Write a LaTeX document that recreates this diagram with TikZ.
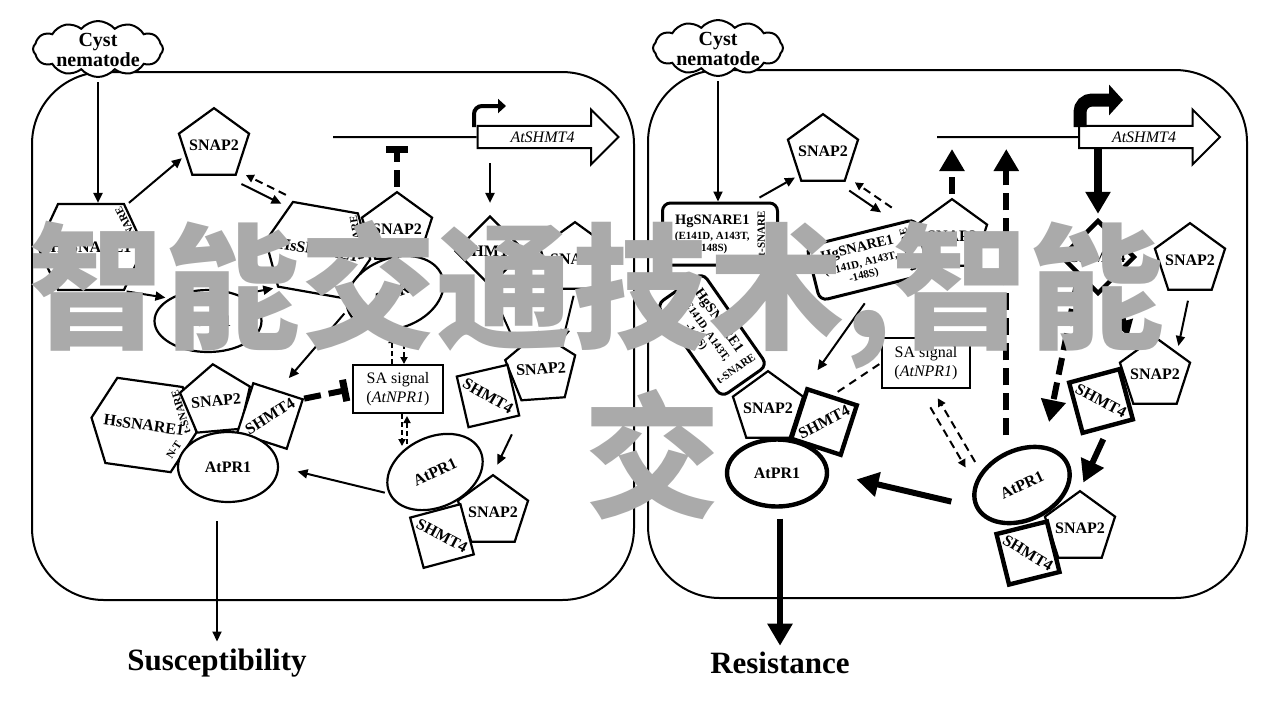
\documentclass[tikz,border=0pt]{standalone}
\usepackage{fontspec}
\usepackage{graphicx}
\setmainfont{Liberation Serif}
\newfontfamily\cjkfont{Noto Sans CJK SC}
\usepackage{tikz}
\usetikzlibrary{positioning}
\usetikzlibrary{calc}
\usetikzlibrary{arrows.meta}
\usetikzlibrary{shapes.geometric}
\usetikzlibrary{shapes.symbols}
\usetikzlibrary{shapes.arrows}

\definecolor{wmgray}{RGB}{170,170,170}

\newcommand{\protfont}{\bfseries\fontsize{8}{9}\selectfont}
\newcommand{\hgfont}{\bfseries\fontsize{7.2}{9}\selectfont}
\newcommand{\mutfont}{\bfseries\fontsize{5.5}{6}\selectfont}
\newcommand{\snarefont}{\bfseries\fontsize{5.5}{6}\selectfont}
\newcommand{\safont}{\fontsize{8}{9.5}\selectfont}
\newcommand{\genefont}{\itshape\fontsize{8}{9}\selectfont}
\newcommand{\outfont}{\bfseries\fontsize{15.5}{18}\selectfont}
\newcommand{\wmfont}{\cjkfont\bfseries\fontsize{68}{70}\selectfont}
\newcommand{\hgtext}{\begin{tabular}{@{}c@{}}HgSNARE1\\[-1.5pt]{\mutfont (E141D, A143T,}\\[-3pt]{\mutfont -148S)}\end{tabular}\hspace{4pt}\rotatebox[origin=c]{90}{\snarefont t-SNARE}}

\tikzstyle{panel}=[line width=1pt, rounded corners=36pt]
\tikzstyle{cloudshape}=[cloud, cloud puffs=12, cloud puff arc=100, draw, fill=white, line width=1pt,
  minimum width=65pt, minimum height=28pt, inner sep=0pt]
\tikzstyle{cloudtxt}=[align=center, inner sep=0pt, font=\bfseries\fontsize{10}{9}\selectfont]
\tikzstyle{prot}=[draw, fill=white, line width=1.1pt, inner sep=0pt, font=\protfont]
\tikzstyle{pent}=[prot, regular polygon, regular polygon sides=5, inner sep=-1.9pt]
\tikzstyle{hexa}=[prot, signal, signal to=east and west, signal pointer angle=130,
  minimum width=53pt, minimum height=43pt, inner xsep=-4pt]
\tikzstyle{oval}=[prot, ellipse, minimum width=50pt, minimum height=35pt]
\tikzstyle{sqbox}=[prot, rectangle, minimum size=26pt]
\tikzstyle{diam}=[prot, diamond, minimum size=35pt]
\tikzstyle{hgbox}=[prot, rectangle, rounded corners=4pt, line width=1.5pt,
  minimum width=56.5pt, minimum height=28pt, font=\hgfont]
\tikzstyle{sabox}=[draw, fill=white, line width=1pt, minimum width=45pt,
  minimum height=24pt, inner sep=0pt, align=center, font=\safont]
\tikzstyle{heavy}=[line width=2.2pt]
\tikzstyle{lbl}=[inner sep=0pt, font=\snarefont]
\tikzstyle{sqtxt}=[inner sep=0pt, font=\protfont]
\tikzstyle{gene}=[single arrow, draw, fill=white, line width=1pt, minimum height=70.5pt,
  minimum width=27.5pt, single arrow head extend=7.75pt, inner ysep=2pt, font=\genefont]
\tikzstyle{outcome}=[inner sep=0pt, font=\outfont]
\tikzstyle{wmark}=[inner sep=0pt, text=wmgray, font=\wmfont]
\tikzstyle{arrseq}=[-{Triangle[length=5pt,width=4.5pt]}, line width=1pt]
\tikzstyle{arrdash}=[-{Triangle[length=3.5pt,width=3.5pt]}, line width=1pt, dash pattern=on 2.5pt off 1.5pt]
\tikzstyle{arrpair}=[-{Triangle[length=4pt,width=4pt]}, line width=1pt, dash pattern=on 4pt off 2.5pt]
\tikzstyle{arrbig}=[-{Triangle[length=11pt,width=12pt]}, line width=3pt]
\tikzstyle{arrbigdash}=[arrbig, dash pattern=on 8.5pt off 4pt]
\tikzstyle{inhib}=[-{Bar[width=11pt,line width=3.5pt]}, line width=3pt, dash pattern=on 8.5pt off 4pt]
\tikzstyle{promoter}=[-{Triangle[length=4pt,width=7pt]}, line width=2pt, rounded corners=4pt]
\tikzstyle{thindash}=[line width=1pt, dash pattern=on 4pt off 3pt]

\begin{document}
\begin{tikzpicture}[x=0.5pt, y=-0.5pt]
\useasboundingbox (0,0) rectangle (1280,720);
\fill[white] (0,0) rectangle (1280,720);

%% susceptible cell
\draw[panel] (32,72) rectangle (634,600);
\node[cloudshape] (cloudL) at (98,49) {};
\node[cloudtxt] (cloudLtxt) at (98,50) {Cyst\\nematode};

\node[hexa] (hexA) at (91,247) {HsSNARE1};
\node[lbl, rotate=117] (tsA) at (128,227) {t-SNARE};
\node[pent] (snapA) at (214,145) {SNAP2};
\node[oval, minimum width=53.5pt, minimum height=31pt] (ellA) at (208,321) {AtPR1};
\node[hexa, rotate=-10] (hexB) at (318,250) {HsSNARE1};
\node[lbl, rotate=100] (tsB) at (357,238) {t-SNARE};
\node[pent] (snapB) at (397,229) {SNAP2};
\node[oval, rotate=20] (ellB) at (395,293) {AtPR1};

\coordinate (geneL) at (333,137);
\node[gene] (shmtL) at (542.5,137) {AtSHMT4};
\draw[line width=1pt] (geneL) -- (shmtL.west);
\coordinate (promL) at (474,127);
\coordinate (promLend) at (506,106);
\draw[promoter] (promL) |- (promLend);
\draw[inhib, shorten >=4.5pt, shorten <=2pt] (snapB.north) -- (snapB.north |- geneL);

\node[diam] (diamA) at (490,251) {SHMT4};
\node[pent] (snapC) at (575,259) {SNAP2};
\draw[arrseq, shorten <=7pt, shorten >=6pt] (diamA.north |- shmtL.south) -- (diamA.north);

\node[pent, rotate=4] (snapD) at (541,369) {SNAP2};
\node[sqbox, rotate=13] (sqC) at (488,396) {};
\node[sqtxt, rotate=-30] (sqCt) at (sqC) {SHMT4};
\draw[arrseq, shorten <=2pt, shorten >=3pt] (diamA.south) -- (snapD.north west);
\draw[arrseq, shorten <=3pt, shorten >=3pt] (snapC.south) -- (snapD.north east);

\node[sabox] (saL) at (398,389) {SA signal\\(\textit{AtNPR1})};
\draw[arrdash] ([xshift=-3pt]saL.north) -- ([xshift=-3pt,yshift=14pt]saL.north);
\draw[arrdash] ([xshift=3pt,yshift=14pt]saL.north) -- ([xshift=3pt]saL.north);
\draw[arrdash] ([xshift=2pt]saL.south) -- ([xshift=2pt,yshift=-16pt]saL.south);
\draw[arrdash] ([xshift=4.5pt,yshift=-15pt]saL.south) -- ([xshift=4.5pt,yshift=-1pt]saL.south);

\node[pent] (snapE) at (493,512) {SNAP2};
\node[sqbox, rotate=15] (sqE) at (442,536) {};
\node[sqtxt, rotate=-28] (sqEt) at (sqE) {SHMT4};
\node[oval, rotate=25] (ellC) at (435,472) {AtPR1};
\draw[arrseq, shorten <=10pt, shorten >=5pt] (sqC.south east) -- (snapE.north);

\node[hexa, rotate=-8] (hexL) at (144,425) {HsSNARE1};
\node[pent, rotate=5] (snapL) at (216,401) {SNAP2};
\node[sqbox, rotate=-18] (sqL) at (270,416) {};
\node[sqtxt, rotate=32] (sqLt) at (sqL) {SHMT4};
\node[oval] (ellL) at (228,467) {AtPR1};
\node[lbl, rotate=107] (tsL) at (181,412) {t-SNARE};
\node[lbl, rotate=57] (ntL) at (174,450) {N-T};

\draw[inhib, shorten >=2pt] (sqL.north east) -- (saL.west);
\draw[arrseq, shorten <=2pt, shorten >=9.5pt] (ellC.west) -- (ellL.east);
\draw[arrseq, shorten <=2pt, shorten >=8pt] (ellB.west) -- (sqL.north);
\draw[arrseq, shorten <=1pt, shorten >=2pt] (hexA.south east) -- (ellA.north west);
\draw[arrseq, shorten <=2pt, shorten >=2pt] (ellA.40) -- (hexB.south west);
\draw[arrseq, shorten <=2pt] (cloudL.south) -- (cloudL.south |- hexA.north);
\draw[arrseq, shorten <=2pt, shorten >=2pt] (hexA.50) -- (snapA.200);
\draw[arrseq, shorten <=4pt, shorten >=4pt] ($(snapA.corner 4)!2.5pt!-90:(hexB.130)$) -- ($(hexB.130)!2.5pt!90:(snapA.corner 4)$);
\draw[arrpair, shorten <=4pt, shorten >=4pt] ($(hexB.130)!2.5pt!-90:(snapA.corner 4)$) -- ($(snapA.corner 4)!2.5pt!90:(hexB.130)$);

\node[outcome] (susc) at (217,663) {Susceptibility};
\draw[arrseq, shorten <=9pt, shorten >=3.5pt] (susc.north |- ellL.south) -- (susc.north);

%% resistant cell
\draw[panel] (648,70) rectangle (1247,598);
\node[cloudshape] (cloudR) at (718,48) {};
\node[cloudtxt] (cloudRtxt) at (718,49) {Cyst\\nematode};

\node[hgbox, minimum width=57.5pt, minimum height=31pt] (hgA) at (720,234) {\hgtext};
\draw[arrseq, shorten <=2pt] (cloudR.south) -- (cloudR.south |- hgA.north);
\node[pent] (snapR1) at (823,151) {SNAP2};
\draw[arrseq, shorten <=4pt, shorten >=2pt] (hgA.45) -- (snapR1.south west);
\node[hgbox, rotate=14] (hgB) at (868,260) {\hgtext};
\node[pent] (snapR2) at (952,236) {SNAP2};
\draw[arrseq, shorten <=4pt, shorten >=8pt] ($(snapR1.corner 4)!2.5pt!-90:([xshift=-10pt]hgB.north east)$) -- ($([xshift=-10pt]hgB.north east)!2.5pt!90:(snapR1.corner 4)$);
\draw[arrpair, shorten <=5pt, shorten >=4pt] ($([xshift=-10pt]hgB.north east)!2.5pt!-90:(snapR1.corner 4)$) -- ($(snapR1.corner 4)!2.5pt!90:([xshift=-10pt]hgB.north east)$);

\coordinate (geneR) at (937,137);
\node[gene] (shmtR) at (1144,137) {AtSHMT4};
\draw[line width=1pt] (geneR) -- (shmtR.west);
\coordinate (promR) at (1080,127);
\coordinate (promRend) at (1123,100);
\draw[promoter, line width=6.5pt, rounded corners=6pt, -{Triangle[length=7pt,width=15pt]}] (promR) |- (promRend);

\node[diam, heavy, minimum size=37pt] (diamR) at (1098,257) {SHMT4};
\node[pent] (snapR3) at (1190,260) {SNAP2};
\draw[arrbig, line width=4pt, shorten >=2pt] (diamR.north |- shmtR.south) -- (diamR.north);

\node[pent] (snapR4) at (1155,374) {SNAP2};
\node[sqbox, heavy, rotate=15] (sqR2) at (1101,401) {};
\node[sqtxt, rotate=-28] (sqR2t) at (sqR2) {SHMT4};
\draw[arrbig, line width=2.5pt, -{Triangle[length=8pt,width=9pt]}, shorten <=4pt, shorten >=8pt] (diamR.-60) -- (snapR4.north west);
\draw[arrseq, shorten <=5pt, shorten >=3pt] (snapR3.south) -- (snapR4.north east);

\node[pent] (snapR5) at (1080,528) {SNAP2};
\node[sqbox, heavy, rotate=14] (sqR3) at (1028,553) {};
\node[sqtxt, rotate=-31] (sqR3t) at (sqR3) {SHMT4};
\node[oval, heavy, rotate=25] (ellR3) at (1022,485) {AtPR1};
\draw[arrbig, shorten <=6pt, shorten >=4pt] (sqR2.south) -- (snapR5.north);
\draw[arrbigdash, shorten <=4pt, shorten >=12pt] (diamR.south west) -- (ellR3.north east);
\draw[arrbigdash, shorten <=8pt] (ellR3.north) -- (ellR3.north |- shmtR.south);
\draw[arrbigdash, shorten <=2pt] (snapR2.north) -- (snapR2.north |- shmtR.south);

\node[sabox, minimum width=44pt, minimum height=25pt] (saR) at (926,363) {SA signal\\(\textit{AtNPR1})};
\draw[arrpair, shorten <=9pt, shorten >=7pt] ($(saR.south)!2.75pt!-90:(ellR3.north west)$) -- ($(ellR3.north west)!2.75pt!90:(saR.south)$);
\draw[arrpair, shorten <=7pt, shorten >=7pt] ($(ellR3.north west)!2.75pt!-90:(saR.south)$) -- ($(saR.south)!2.75pt!90:(ellR3.north west)$);

\node[hgbox, rotate=-55] (hgC) at (712,335) {\hgtext};
\node[pent] (snapR6) at (768,408) {SNAP2};
\node[sqbox, heavy, rotate=-18] (sqR1) at (824,422) {};
\node[sqtxt, rotate=27] (sqR1t) at (sqR1) {SHMT4};
\node[oval, heavy, minimum height=33.5pt] (ellR1) at (777,473) {AtPR1};
\draw[arrseq, shorten <=9pt, shorten >=10pt] (hgB.south) -- (sqR1.north west);
\draw[thindash, shorten <=3pt] (sqR1.north) -- (saR.west);
\draw[arrbig, shorten <=12pt, shorten >=14pt] (ellR3.west) -- (ellR1.east);

\node[outcome] (resist) at (780,663) {Resistance};
\draw[arrbig, shorten <=5pt, shorten >=3pt] (resist.north |- ellR1.south) -- (resist.north);

%% watermark
\node[wmark, anchor=west] (wmA) at (28,295) {智能交通技术,智能};
\node[wmark] (wmB) at (652,455) {交};
\end{tikzpicture}
\end{document}
